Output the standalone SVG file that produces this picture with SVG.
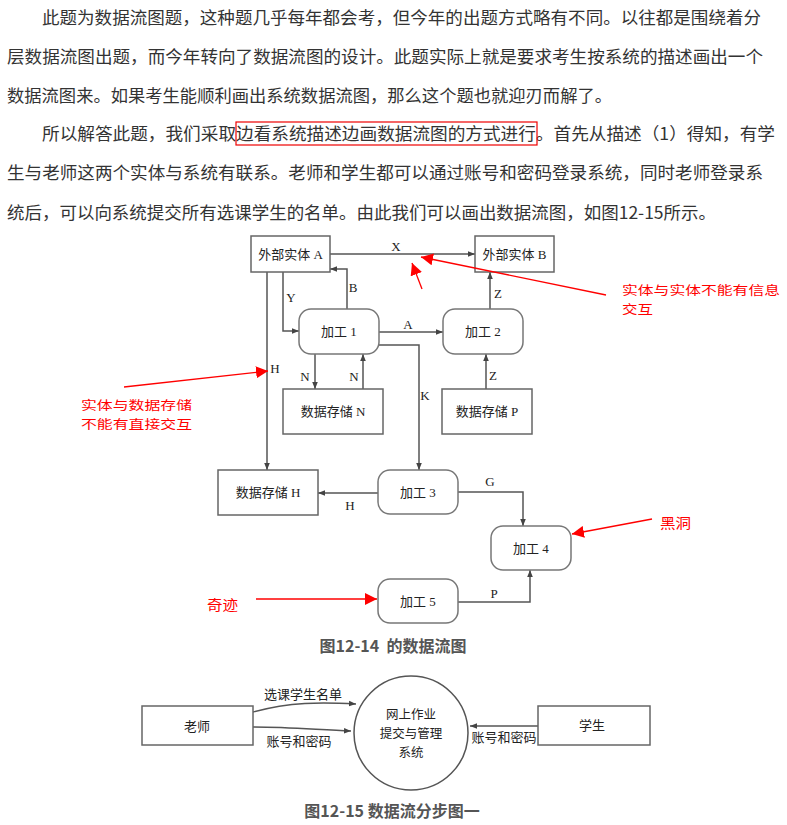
<svg xmlns="http://www.w3.org/2000/svg" width="787" height="825" viewBox="0 0 787 825">
<style>
.para{font-family:"Noto Sans CJK SC","Noto Sans",sans-serif;font-size:17px;fill:#333}
.box{fill:#fff;stroke:#666;stroke-width:1.5}
.proc{fill:#fff;stroke:#777;stroke-width:1.5}
.nt{font-family:"Liberation Serif","Noto Sans CJK SC",serif;font-size:13px;fill:#222;text-anchor:middle;dominant-baseline:central}
.lbl{font-family:"Liberation Serif","Noto Sans CJK SC",serif;font-size:13px;fill:#222;text-anchor:middle;dominant-baseline:central}
.ln{fill:none;stroke:#555;stroke-width:1.5}
.red{fill:none;stroke:#f00;stroke-width:1.3}
.rt{font-family:"Noto Sans CJK SC",sans-serif;font-size:14px;fill:#f00}
.rt2{font-family:"Noto Sans CJK SC",sans-serif;font-size:12.5px;fill:#f00}
.st{font-family:"Noto Sans CJK SC",sans-serif;font-size:13px;fill:#222;text-anchor:middle;dominant-baseline:central}
.ct{font-family:"Noto Sans CJK SC",sans-serif;font-size:12.5px;fill:#222;text-anchor:middle;dominant-baseline:central}
.cap{font-family:"Noto Sans CJK SC",sans-serif;font-size:16px;font-weight:bold;fill:#555;text-anchor:middle}
</style>
<defs>
<marker id="ah" viewBox="0 0 10 10" refX="10" refY="5" markerWidth="7" markerHeight="7" markerUnits="userSpaceOnUse" orient="auto"><path d="M0,1 L10,5 L0,9 z" fill="#444"/></marker>
<marker id="rh" viewBox="0 0 10 10" refX="10" refY="5" markerWidth="12" markerHeight="12" markerUnits="userSpaceOnUse" orient="auto"><path d="M0,0 L10,5 L0,10 z" fill="#f00"/></marker>
</defs>
<rect width="787" height="825" fill="#fff"/>
<g id="text">
<text class="para" x="42" y="24" textLength="719" lengthAdjust="spacingAndGlyphs">此题为数据流图题，这种题几乎每年都会考，但今年的出题方式略有不同。以往都是围绕着分</text>
<text class="para" x="7" y="63" textLength="756" lengthAdjust="spacingAndGlyphs">层数据流图出题，而今年转向了数据流图的设计。此题实际上就是要求考生按系统的描述画出一个</text>
<text class="para" x="7" y="102" textLength="605" lengthAdjust="spacingAndGlyphs">数据流图来。如果考生能顺利画出系统数据流图，那么这个题也就迎刃而解了。</text>
<text class="para" x="42" y="140" textLength="733" lengthAdjust="spacingAndGlyphs">所以解答此题，我们采取边看系统描述边画数据流图的方式进行。首先从描述（1）得知，有学</text>
<text class="para" x="7" y="179" textLength="756" lengthAdjust="spacingAndGlyphs">生与老师这两个实体与系统有联系。老师和学生都可以通过账号和密码登录系统，同时老师登录系</text>
<text class="para" x="7" y="219" textLength="709" lengthAdjust="spacingAndGlyphs">统后，可以向系统提交所有选课学生的名单。由此我们可以画出数据流图，如图12-15所示。</text>
<rect x="236" y="122" width="301" height="23" fill="none" stroke="#e00" stroke-width="1.2"/>
</g>
<g id="connectors">
<path class="ln" d="M330,254 H475" marker-end="url(#ah)"/>
<path class="ln" d="M283,272 V331 H299" marker-end="url(#ah)"/>
<path class="ln" d="M347,309 V269 H330" marker-end="url(#ah)"/>
<path class="ln" d="M267,272 V470" marker-end="url(#ah)"/>
<path class="ln" d="M379,332 H443" marker-end="url(#ah)"/>
<path class="ln" d="M490,309 V272" marker-end="url(#ah)"/>
<path class="ln" d="M315,354 V389" marker-end="url(#ah)"/>
<path class="ln" d="M363,389 V354" marker-end="url(#ah)"/>
<path class="ln" d="M486,389 V354" marker-end="url(#ah)"/>
<path class="ln" d="M379,345 H419 V470" marker-end="url(#ah)"/>
<path class="ln" d="M378,493 H318" marker-end="url(#ah)"/>
<path class="ln" d="M458,492 H523 V526" marker-end="url(#ah)"/>
<path class="ln" d="M458,602 H530 V570" marker-end="url(#ah)"/>
<path class="ln" d="M253,712 C290,702 320,702 356,704" marker-end="url(#ah)"/>
<path class="ln" d="M253,727 C290,727 320,730 351,731" marker-end="url(#ah)"/>
<path class="ln" d="M538,726 H470" marker-end="url(#ah)"/>
<text class="lbl" x="396" y="246">X</text>
<text class="lbl" x="291" y="297">Y</text>
<text class="lbl" x="353" y="287">B</text>
<text class="lbl" x="408" y="324">A</text>
<text class="lbl" x="498" y="293">Z</text>
<text class="lbl" x="275" y="368">H</text>
<text class="lbl" x="305" y="376">N</text>
<text class="lbl" x="354" y="376">N</text>
<text class="lbl" x="493" y="375">Z</text>
<text class="lbl" x="425" y="395">K</text>
<text class="lbl" x="350" y="505">H</text>
<text class="lbl" x="490" y="481">G</text>
<text class="lbl" x="494" y="593">P</text>
<text class="st" x="303" y="693">选课学生名单</text>
<text class="st" x="299" y="740">账号和密码</text>
<text class="st" x="504" y="736">账号和密码</text>
</g>
<g id="entityA"><rect class="box" x="251" y="236" width="79" height="36"/><text class="nt" x="290.5" y="254">外部实体 A</text></g>
<g id="entityB"><rect class="box" x="475" y="236" width="79" height="36"/><text class="nt" x="514.5" y="254">外部实体 B</text></g>
<g id="proc1"><rect class="proc" x="299" y="309" width="80" height="45" rx="12"/><text class="nt" x="339" y="331">加工 1</text></g>
<g id="proc2"><rect class="proc" x="443" y="309" width="80" height="45" rx="12"/><text class="nt" x="483" y="331">加工 2</text></g>
<g id="storeN"><rect class="box" x="283" y="389" width="100" height="45"/><text class="nt" x="333" y="411">数据存储 N</text></g>
<g id="storeP"><rect class="box" x="442" y="389" width="90" height="45"/><text class="nt" x="487" y="411">数据存储 P</text></g>
<g id="storeH"><rect class="box" x="218" y="470" width="100" height="45"/><text class="nt" x="268" y="492">数据存储 H</text></g>
<g id="proc3"><rect class="proc" x="378" y="470" width="80" height="44" rx="12"/><text class="nt" x="418" y="492">加工 3</text></g>
<g id="proc4"><rect class="proc" x="491" y="526" width="80" height="44" rx="12"/><text class="nt" x="531" y="548">加工 4</text></g>
<g id="proc5"><rect class="proc" x="378" y="579" width="80" height="44" rx="12"/><text class="nt" x="418" y="601">加工 5</text></g>
<text class="cap" x="393" y="652">图12-14&#160;&#160;的数据流图</text>
<g id="annotations">
<path class="red" d="M606,295 L421,257" marker-end="url(#rh)"/>
<path class="red" d="M422,289 L412,263" marker-end="url(#rh)"/>
<text class="rt2" x="622" y="295" textLength="158" lengthAdjust="spacingAndGlyphs">实体与实体不能有信息</text>
<text class="rt2" x="622" y="313.5" textLength="31" lengthAdjust="spacingAndGlyphs">交互</text>
<path class="red" d="M124,387 L268,371" marker-end="url(#rh)"/>
<text class="rt2" x="81" y="410" textLength="111" lengthAdjust="spacingAndGlyphs">实体与数据存储</text>
<text class="rt2" x="81" y="428.5" textLength="111" lengthAdjust="spacingAndGlyphs">不能有直接交互</text>
<path class="red" d="M256,599 L377,599" marker-end="url(#rh)"/>
<text class="rt" x="207" y="610" textLength="31" lengthAdjust="spacingAndGlyphs">奇迹</text>
<path class="red" d="M652,519 L572,534" marker-end="url(#rh)"/>
<text class="rt" x="660" y="528" textLength="31" lengthAdjust="spacingAndGlyphs">黑洞</text>
</g>
<g id="teacher"><rect class="box" x="142" y="706" width="111" height="39"/><text class="st" x="197" y="725">老师</text></g>
<g id="system"><circle cx="411" cy="733" r="57" fill="#fff" stroke="#555" stroke-width="1.5"/><text class="ct" x="411" y="713">网上作业</text><text class="ct" x="411" y="732">提交与管理</text><text class="ct" x="411" y="751">系统</text></g>
<g id="student"><rect class="box" x="538" y="706" width="112" height="39"/><text class="st" x="592" y="724">学生</text></g>
<text class="cap" x="392" y="817">图12-15 数据流分步图一</text>
</svg>
